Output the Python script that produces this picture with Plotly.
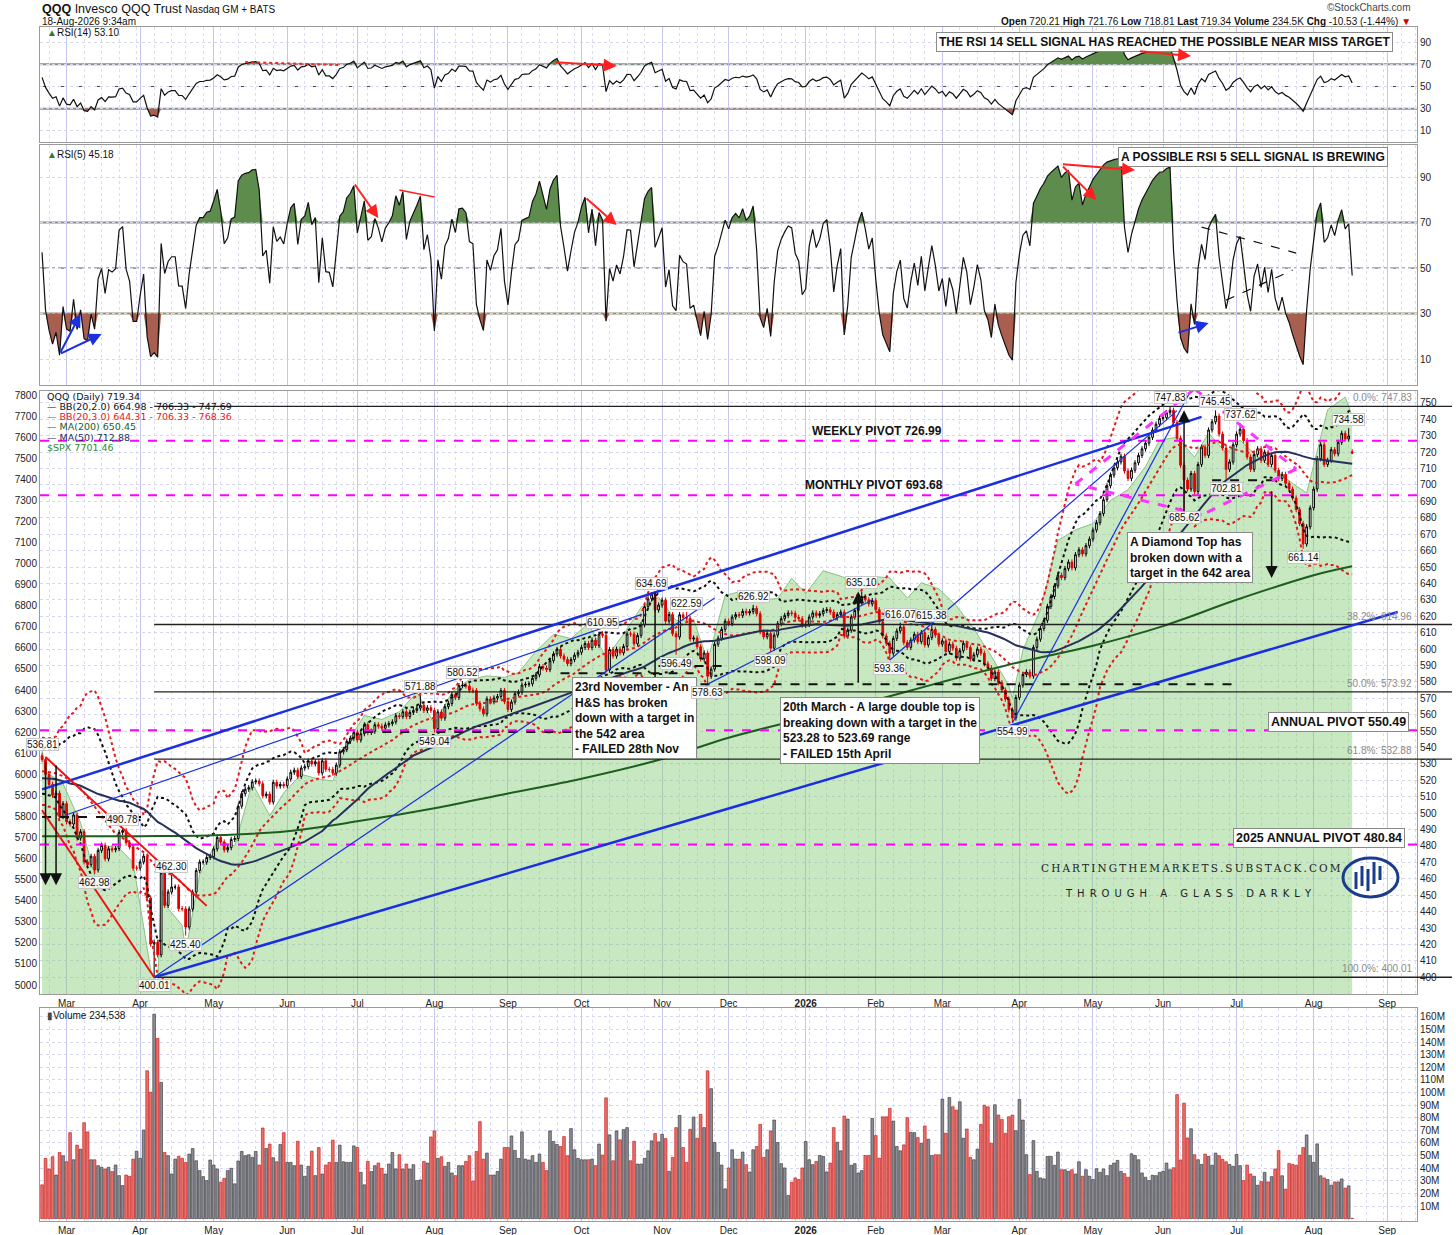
import numpy as np
import pandas as pd
import plotly.graph_objects as go

# ------------------------------------------------------------------ data
HOLIDAYS = ["2024-11-28", "2024-12-25", "2025-01-01", "2025-01-09", "2025-01-20", "2025-02-17",
            "2025-04-18", "2025-05-26", "2025-06-19", "2025-07-04", "2025-09-01", "2025-11-27",
            "2025-12-25", "2026-01-01", "2026-01-19", "2026-02-16", "2026-04-03", "2026-05-25",
            "2026-06-19", "2026-07-03", "2026-09-07"]

# closes before the visible window (indicator warm-up) 2024-11-25 .. 2025-02-19
warmup_close = [
    503.4, 504.9, 501.8, 507.3,
    512.9, 514.5, 520.9, 519.8, 524.1, 520.0, 518.2, 528.0, 524.1, 528.1, 535.8, 533.4, 514.1, 511.8,
    516.3, 520.5, 527.6, 527.2, 520.2, 513.2, 508.8,
    507.8, 516.2, 522.1, 512.8, 512.9, 504.8, 503.2, 502.7, 514.0, 510.4, 519.3, 522.4, 529.1, 530.2,
    527.2, 511.8, 519.4, 518.5, 520.7, 519.9,
    515.7, 522.1, 524.4, 526.9, 520.5, 526.9, 525.6, 527.4, 533.9, 535.8, 536.8, 535.0]

# QQQ daily closes 2025-02-20 .. 2025-12-31
close_2025 = [
    532.7, 523.7, 517.5, 510.9, 512.2, 497.9, 505.8,
    494.7, 493.4, 498.9, 484.8, 488.7, 470.3, 468.6, 473.7, 465.4, 477.3, 480.4, 472.2, 478.3, 477.7,
    478.4, 488.3, 489.4, 482.0, 479.4, 466.5, 466.5,
    470.3, 473.8, 448.3, 420.3, 421.3, 413.7, 463.6, 443.8, 452.0, 455.0, 455.0, 441.8, 441.7, 430.6,
    441.6, 451.9, 465.0, 470.2, 470.2, 473.0, 473.5,
    478.2, 485.2, 482.4, 477.6, 479.0, 484.0, 484.5, 504.3, 511.9, 514.6, 515.5, 519.1, 519.6, 517.9,
    510.6, 511.6, 506.8, 518.8, 516.5, 517.5, 516.7,
    520.8, 524.9, 526.2, 522.4, 527.5, 528.3, 531.8, 530.0, 531.3, 524.5, 531.9, 526.7, 526.6, 524.4,
    529.3, 537.4, 538.8, 543.8, 545.7, 549.2,
    544.6, 548.4, 553.8, 549.2, 549.9, 553.9, 553.0, 551.8, 553.8, 554.6, 555.6, 559.4, 558.9, 561.8,
    558.9, 561.4, 562.6, 564.0, 565.7, 562.6, 564.2, 562.6,
    551.5, 561.7, 557.9, 564.9, 566.8, 572.2, 570.5, 577.7, 577.9, 577.5, 574.9, 574.7, 566.9, 563.5,
    560.5, 569.6, 567.9, 570.2, 571.1, 574.7, 568.0,
    563.2, 567.7, 572.8, 573.7, 578.1, 578.5, 578.8, 582.2, 584.3, 589.3, 588.4, 587.5, 592.9, 597.0,
    599.8, 595.8, 593.7, 591.1, 593.6, 596.3, 598.0,
    601.0, 603.4, 600.9, 605.4, 602.2, 609.1, 608.4, 587.2, 599.7, 595.7, 599.9, 597.7, 601.6, 609.2,
    609.1, 603.2, 608.3, 614.8, 625.8, 630.6, 633.5, 623.8, 626.8,
    629.8, 617.0, 621.0, 609.4, 607.4, 620.9, 619.3, 618.8, 606.1, 606.7, 601.4, 594.0, 597.6, 583.4,
    587.8, 602.9, 606.6, 612.0, 617.0,
    615.5, 619.5, 621.0, 620.5, 623.0, 622.0, 622.8, 624.8, 621.5, 610.5, 607.5, 609.5, 600.5, 608.5,
    615.5, 618.5, 620.5, 622.0, 621.8, 619.3, 618.5, 614.5]

# QQQ daily closes 2026-01-02 .. 2026-08-18
close_2026 = [
    615.0, 619.5, 622.0, 620.5, 621.5, 623.5, 624.0, 622.5, 619.0, 621.0, 622.5, 608.0, 611.5, 619.5,
    623.5, 628.5, 632.0, 630.0, 627.5, 629.5,
    624.0, 616.5, 608.0, 603.5, 597.5, 606.5, 611.0, 613.5, 604.0, 601.0, 605.5, 609.0, 604.5, 610.0,
    602.5, 607.0, 612.0, 608.5, 603.0,
    605.0, 598.5, 603.0, 600.5, 594.5, 599.0, 603.5, 601.0, 594.0, 596.5, 600.0, 597.5, 591.0, 588.5,
    582.0, 586.0, 579.5, 575.0, 569.5, 563.0, 558.0, 570.5,
    578.0, 584.5, 586.0, 583.5, 601.0, 606.0, 612.5, 617.5, 626.0, 632.0, 638.5, 645.0, 643.5, 649.0,
    653.0, 649.5, 657.5, 660.5, 658.0, 663.0, 667.0,
    672.5, 677.0, 682.5, 691.0, 699.5, 706.0, 710.5, 714.0, 717.5, 708.5, 704.0, 709.0, 713.5, 718.0,
    722.0, 725.5, 729.0, 733.5, 737.0, 740.5,
    741.0, 744.0, 745.5, 738.0, 728.5, 712.0, 703.0, 697.5, 707.0, 696.0, 712.5, 723.0, 718.0, 733.5,
    738.5, 742.0, 731.0, 722.5, 709.5, 714.0, 724.5,
    731.0, 734.0, 727.0, 717.0, 709.5, 718.5, 722.0, 715.0, 720.0, 712.5, 718.0, 709.0, 704.0, 706.5,
    701.0, 697.5, 692.0, 685.0, 676.5, 664.0, 674.5, 686.0,
    697.5, 716.0, 724.5, 712.5, 715.0, 721.5, 719.0, 726.0, 731.5, 728.0, 729.87, 719.34]

# daily volume, millions of shares
volume_2025_m = [
    26.8, 47.8, 39.4, 49.1, 34.6, 52.5, 49.9,
    45.1, 68.2, 46.7, 58.3, 55.1, 76.1, 68.8, 46.7, 46.7, 42.0, 40.7, 39.4, 40.7, 37.3, 42.5, 34.1,
    26.2, 34.6, 33.6, 47.2, 53.5,
    47.8, 70.3, 117.3, 100.3, 162.2, 143.0, 108.1, 52.5, 49.9, 35.4, 47.2, 49.3, 47.8, 44.6, 51.2,
    55.6, 45.9, 38.1, 33.3, 30.2, 46.5,
    42.5, 39.4, 28.9, 32.0, 38.1, 39.9, 27.6, 45.7, 53.3, 49.9, 50.7, 48.6, 53.3, 42.5, 71.9, 55.6,
    59.1, 48.3, 45.1, 58.8, 68.2,
    44.6, 44.6, 42.0, 61.4, 42.5, 33.6, 41.5, 53.5, 34.1, 56.4, 35.4, 42.5, 44.6, 62.2, 44.6, 58.3,
    45.1, 44.6, 44.6, 57.7,
    56.4, 36.7, 26.8, 45.4, 37.3, 42.0, 44.1, 39.9, 35.4, 43.3, 52.5, 39.4, 50.7, 39.4, 43.3, 39.4,
    42.8, 30.2, 30.7, 45.4, 44.1, 64.8,
    69.6, 47.8, 49.1, 41.5, 44.6, 36.2, 34.1, 42.0, 42.0, 45.4, 49.9, 29.7, 53.3, 76.9, 47.2, 52.0,
    34.6, 34.6, 37.5, 47.2, 56.4,
    56.4, 65.6, 54.1, 47.8, 68.8, 47.2, 46.5, 49.9, 44.6, 51.2, 44.6, 38.1, 69.6, 61.2, 58.8, 57.2,
    65.1, 49.9, 71.4, 54.6, 47.8,
    46.7, 46.7, 46.7, 47.2, 42.0, 59.1, 50.4, 95.8, 66.4, 45.9, 69.6, 62.5, 70.6, 72.2, 45.9, 61.4,
    43.3, 43.3, 47.8, 53.8, 61.7, 67.5, 60.9,
    66.9, 63.5, 37.5, 48.6, 72.2, 81.9, 56.4, 44.6, 70.9, 80.6, 63.8, 82.7, 72.2, 117.3, 103.1, 60.4,
    52.5, 42.5, 23.6,
    40.2, 54.6, 47.2, 47.2, 52.8, 42.8, 37.0, 54.6, 57.2, 74.8, 48.6, 54.6, 69.6, 78.2, 60.4, 43.6,
    40.2, 18.4, 28.9, 32.3, 31.0, 40.2]
volume_2026_m = [
    61.2, 46.7, 42.8, 45.4, 50.1, 49.3, 37.0, 44.1, 72.2, 60.6, 53.8, 81.4, 79.0, 42.3, 43.6, 36.2,
    38.1, 50.1, 50.1, 79.5,
    65.9, 48.0, 80.8, 80.8, 87.4, 77.4, 57.2, 53.8, 58.5, 80.1, 68.5, 68.2, 64.3, 59.8, 73.5, 63.0,
    50.1, 50.7, 50.7,
    94.8, 67.7, 96.1, 88.7, 86.1, 92.7, 63.8, 71.1, 48.6, 46.7, 55.1, 74.8, 90.0, 88.7, 59.8, 90.3,
    82.2, 78.7, 67.7, 80.8, 82.2, 69.8,
    94.5, 78.2, 50.7, 34.9, 61.9, 37.5, 32.3, 31.5, 49.3, 49.3, 42.3, 52.8, 38.8, 38.8, 37.5, 38.8,
    35.4, 45.1, 33.6, 38.8, 33.6,
    31.0, 39.6, 36.7, 39.4, 34.1, 42.3, 44.1, 46.2, 37.5, 35.7, 32.8, 51.4, 50.1, 46.7, 36.2, 32.8,
    30.2, 34.4, 34.1, 36.7,
    37.5, 44.1, 38.8, 40.4, 98.4, 46.5, 91.6, 64.0, 71.3, 50.7, 46.7, 43.0, 51.2, 49.4, 42.3, 52.0,
    50.0, 47.0, 45.1, 43.0, 41.5,
    50.9, 42.0, 30.2, 42.5, 35.4, 33.6, 26.5, 29.4, 36.7, 29.1, 33.3, 39.4, 54.1, 34.0, 23.4, 43.8,
    43.0, 42.3, 50.4, 56.4, 66.4, 50.1,
    44.6, 59.3, 34.0, 32.3, 31.0, 26.5, 29.1, 29.1, 31.5, 24.2, 26.0, 0.2345]

last_bar_ohl = (720.21, 721.76, 718.81)

# labelled swing highs (H) / lows (L)
swing_points = [
    ("2025-02-20", 536.81, "H"), ("2025-03-13", 462.98, "L"), ("2025-03-25", 490.78, "H"),
    ("2025-04-07", 400.01, "L"), ("2025-04-14", 462.30, "H"), ("2025-04-21", 425.40, "L"),
    ("2025-07-28", 571.88, "H"), ("2025-08-01", 549.04, "L"), ("2025-08-13", 580.52, "H"),
    ("2025-10-09", 610.95, "H"), ("2025-10-29", 634.69, "H"), ("2025-11-07", 596.49, "L"),
    ("2025-11-12", 622.59, "H"), ("2025-11-20", 578.63, "L"), ("2025-12-10", 626.92, "H"),
    ("2025-12-17", 598.09, "L"), ("2026-01-27", 635.10, "H"), ("2026-02-06", 593.36, "L"),
    ("2026-02-11", 616.07, "H"), ("2026-02-25", 615.38, "H"), ("2026-03-30", 554.99, "L"),
    ("2026-06-03", 747.83, "H"), ("2026-06-09", 685.62, "L"), ("2026-06-23", 745.45, "H"),
    ("2026-06-26", 702.81, "L"), ("2026-07-02", 737.62, "H"), ("2026-07-29", 661.14, "L"),
    ("2026-08-17", 734.58, "H")]

ma200_dates = ["2025-02-20", "2025-04-01", "2025-05-01", "2025-06-02", "2025-07-01", "2025-08-01",
               "2025-09-02", "2025-10-01", "2025-11-03", "2025-12-01", "2026-01-02", "2026-02-02",
               "2026-03-02", "2026-04-01", "2026-05-01", "2026-06-01", "2026-07-01", "2026-08-03",
               "2026-08-18"]
ma200_values = [486.0, 486.0, 486.5, 489.0, 495.0, 503.0, 512.0, 521.0, 533.0, 546.0, 558.0, 569.0,
                580.0, 592.0, 602.0, 614.0, 630.0, 645.0, 650.45]

spx_dates = ["2025-02-20", "2025-02-21", "2025-02-28", "2025-03-07", "2025-03-13", "2025-03-14",
             "2025-03-21", "2025-03-28", "2025-04-04", "2025-04-08", "2025-04-09", "2025-04-11",
             "2025-04-17", "2025-04-21", "2025-04-25", "2025-05-02", "2025-05-09", "2025-05-16",
             "2025-05-23", "2025-05-30", "2025-06-06", "2025-06-13", "2025-06-20", "2025-06-27",
             "2025-07-03", "2025-07-11", "2025-07-18", "2025-07-25", "2025-08-01", "2025-08-08",
             "2025-08-15", "2025-08-22", "2025-08-29", "2025-09-05", "2025-09-12", "2025-09-19",
             "2025-09-26", "2025-10-03", "2025-10-10", "2025-10-17", "2025-10-24", "2025-10-31",
             "2025-11-07", "2025-11-14", "2025-11-20", "2025-11-28", "2025-12-05", "2025-12-12",
             "2025-12-19", "2025-12-26", "2026-01-02", "2026-01-09", "2026-01-16", "2026-01-23",
             "2026-01-30", "2026-02-06", "2026-02-13", "2026-02-20", "2026-02-27", "2026-03-06",
             "2026-03-13", "2026-03-20", "2026-03-27", "2026-03-30", "2026-04-02", "2026-04-10",
             "2026-04-17", "2026-04-24", "2026-05-01", "2026-05-08", "2026-05-15", "2026-05-22",
             "2026-05-29", "2026-06-05", "2026-06-12", "2026-06-18", "2026-06-26", "2026-07-02",
             "2026-07-10", "2026-07-17", "2026-07-24", "2026-07-30", "2026-08-07", "2026-08-14",
             "2026-08-18"]
spx_values = [6117, 6013, 5955, 5770, 5521, 5639, 5667, 5581, 5074, 4982, 5457, 5363, 5283, 5158,
              5525, 5687, 5660, 5958, 5803, 5912, 6000, 5977, 5968, 6173, 6279, 6260, 6297, 6389,
              6238, 6389, 6450, 6467, 6460, 6482, 6584, 6664, 6644, 6716, 6553, 6664, 6792, 6840,
              6729, 6734, 6538, 6849, 6870, 6827, 6834, 6930, 6858, 6966, 6940, 6915, 6939, 6932,
              6836, 6909, 6880, 6800, 6690, 6560, 6420, 6360, 6590, 6780, 7110, 7160, 7190, 7300,
              7350, 7460, 7585, 7600, 7505, 7620, 7525, 7586, 7507, 7445, 7380, 7335, 7730, 7790,
              7701]

fib_levels = [(747.83, "0.0%: 747.83"), (614.96, "38.2%: 614.96"), (573.92, "50.0%: 573.92"),
              (532.88, "61.8%: 532.88"), (400.01, "100.0%: 400.01")]
pivot_levels = [726.99, 693.68, 550.49, 480.84]

# analyst trendlines: (bar index or date, price) -> (bar index or date, price)
blue_thick_lines = [((0, 514.5), (331, 741.5)), ((32, 400.01), ("2026-09-04", 622.6))]
blue_thin_lines = [((32, 400.01), (192, 631.1)), ((7, 499.0), (171, 621.0)),
                   ((190, 578.63), (237, 629.9)), ((242, 593.36), (324, 745.3)),
                   ((277, 554.99), (328, 757.8))]
red_lines = [((0, 501.8), (32, 400.01)), ((1, 534.2), (47, 443.5))]
diamond = [(295, 700.6), (329, 758.5), (358, 709.7), (331, 681.7)]
dashed_levels = [(497.6, 0, 31), (549.5, 92, 153), (578.6, 152, 342), (585.3, 148, 186),
                 (589.7, 176, 196), (702.8, 334, 354)]
target_arrows = [(233, 578.6, 635.1), (326, 683.0, 745.5), (351, 697.0, 643.3),
                 (1, 532.0, 456.0), (4, 530.0, 456.0)]
measure_lines = [(175, 634.5, 578.6)]

# RSI annotation arrows (bar index, value) -> (bar index, value)
rsi14_arrows = [((146, 72.0), (164, 68.4)), ((313, 81.9), (328, 77.4))]
rsi14_dotted = [((58, 72.0), (85, 69.3))]
rsi5_red_arrows = [((89, 87.4), (96, 72.0)), ((155, 81.2), (164, 68.9)),
                   ((291, 95.7), (312, 93.1)), ((291, 95.3), (301, 79.9))]
rsi5_red_lines = [((102, 84.3), (112, 81.2))]
rsi5_blue_arrows = [((5, 12.2), (11, 29.8)), ((5, 12.2), (17, 21.0)), ((324, 21.4), (333, 25.8))]
rsi5_black_dashed = [((331, 68.0), (358, 56.6)), ((338, 35.9), (357, 49.1))]

# ------------------------------------------------------------------ prep
W, H = 1456, 1235
ML, MR = 40, 39
PW = W - ML - MR
X0, X1 = "2025-02-19 10:00", "2026-09-14 12:00"
WICK = 1.6
FONT = "Liberation Sans, Arial, sans-serif"


def pxx(px):
    return (px - ML) / PW


def pxy(py):
    return 1 - py / H


all_dates = pd.bdate_range("2024-11-25", "2026-08-18", freq="C", holidays=HOLIDAYS)
close_all = np.array(warmup_close + close_2025 + close_2026, dtype=float)
if len(all_dates) != len(close_all):
    raise ValueError(f"dates {len(all_dates)} vs closes {len(close_all)}")
nw = len(warmup_close)
dates = all_dates[nw:]
ds = list(dates.strftime("%Y-%m-%d"))
close = close_all[nw:]
prev = close_all[nw - 1:-1]
vol = np.array(volume_2025_m + volume_2026_m)
if len(vol) != len(close):
    raise ValueError(f"volume {len(vol)} vs closes {len(close)}")

open_ = prev.copy()
hi = np.maximum(open_, close) + WICK
lo = np.minimum(open_, close) - WICK
pos = {d: i for i, d in enumerate(ds)}
for d, v, k in swing_points:
    if k == "H":
        hi[pos[d]] = v
    else:
        lo[pos[d]] = v
open_[-1], hi[-1], lo[-1] = last_bar_ohl

s = pd.Series(close_all, index=all_dates)
sma20 = s.rolling(20).mean()
sd20 = s.rolling(20).std(ddof=0)
ma50 = s.rolling(50).mean()


def rsi(series, n):
    d = series.diff()
    up = d.clip(lower=0)
    dn = (-d).clip(lower=0)
    au = up.ewm(alpha=1 / n, adjust=False).mean()
    ad = dn.ewm(alpha=1 / n, adjust=False).mean()
    return 100 - 100 / (1 + au / ad)


r14 = rsi(s, 14).values[nw:]
r5 = rsi(s, 5).values[nw:]
mid = sma20.values[nw:]
sd = sd20.values[nw:]
m50 = ma50.values[nw:]


def D(ref):
    return ds[ref] if isinstance(ref, int) else ref


# ------------------------------------------------------------------ traces
fig = go.Figure()

fig.add_trace(go.Scatter(x=spx_dates, y=spx_values, xaxis="x2", yaxis="y2", mode="lines",
                         line=dict(color="#86c47e", width=1), fill="tozeroy",
                         fillcolor="rgba(125,200,110,0.42)", hoverinfo="skip"))

for k, col in ((3.0, "#e31a1a"), (2.0, "#111111")):
    for sign in (1, -1):
        fig.add_trace(go.Scatter(x=ds, y=mid + sign * k * sd, xaxis="x2", yaxis="y5", mode="lines",
                                 line=dict(color=col, width=2, dash="dot"), hoverinfo="skip"))
fig.add_trace(go.Scatter(x=ds, y=mid, xaxis="x2", yaxis="y5", mode="lines",
                         line=dict(color="#e31a1a", width=2, dash="dot"), hoverinfo="skip"))

fig.add_trace(go.Candlestick(x=ds, open=open_, high=hi, low=lo, close=close, xaxis="x2", yaxis="y5",
                             increasing=dict(line=dict(color="#000000", width=1), fillcolor="#ffffff"),
                             decreasing=dict(line=dict(color="#e00000", width=1), fillcolor="#e00000"),
                             whiskerwidth=0, hoverinfo="skip"))

fig.add_trace(go.Scatter(x=ma200_dates, y=ma200_values, xaxis="x2", yaxis="y5", mode="lines",
                         line=dict(color="#1d5e1d", width=2, shape="spline"), hoverinfo="skip"))
fig.add_trace(go.Scatter(x=ds, y=m50, xaxis="x2", yaxis="y5", mode="lines",
                         line=dict(color="#26305a", width=2), hoverinfo="skip"))

for rv, xa, ya in ((r14, "x4", "y4"), (r5, "x3", "y3")):
    fig.add_trace(go.Scatter(x=ds, y=np.full(len(ds), 70.0), xaxis=xa, yaxis=ya, mode="lines",
                             line=dict(width=0), hoverinfo="skip"))
    fig.add_trace(go.Scatter(x=ds, y=np.maximum(rv, 70), xaxis=xa, yaxis=ya, mode="lines",
                             line=dict(width=0), fill="tonexty", fillcolor="#5d8c4c", hoverinfo="skip"))
    fig.add_trace(go.Scatter(x=ds, y=np.full(len(ds), 30.0), xaxis=xa, yaxis=ya, mode="lines",
                             line=dict(width=0), hoverinfo="skip"))
    fig.add_trace(go.Scatter(x=ds, y=np.minimum(rv, 30), xaxis=xa, yaxis=ya, mode="lines",
                             line=dict(width=0), fill="tonexty", fillcolor="#a85f4f", hoverinfo="skip"))
    fig.add_trace(go.Scatter(x=ds, y=rv, xaxis=xa, yaxis=ya, mode="lines",
                             line=dict(color="#111111", width=1.2), hoverinfo="skip"))

down = close < prev
fig.add_trace(go.Bar(x=ds, y=vol, xaxis="x", yaxis="y", width=0.78 * 86400000,
                     marker=dict(color=np.where(down, "#e8706a", "#8c8c96"),
                                 line=dict(color=np.where(down, "#c41010", "#303030"), width=0.6)),
                     hoverinfo="skip"))

# ------------------------------------------------------------------ shapes
shapes = []


def seg(p0, p1, color, width, dash="solid", xref="x2", yref="y5", layer="above"):
    shapes.append(dict(type="line", xref=xref, yref=yref, x0=D(p0[0]), y0=p0[1], x1=D(p1[0]), y1=p1[1],
                       line=dict(color=color, width=width, dash=dash), layer=layer))


for lv in pivot_levels:
    shapes.append(dict(type="line", xref="paper", yref="y5", x0=0, x1=1, y0=lv, y1=lv,
                       line=dict(color="#ff00ff", width=2, dash="dash")))
for lv, _ in fib_levels:
    shapes.append(dict(type="line", xref="x2", yref="y5", x0=ds[32], x1=X1, y0=lv, y1=lv,
                       line=dict(color="#222222", width=1.3)))
    shapes.append(dict(type="line", xref="paper", yref="y5", x0=1, x1=pxx(1452), y0=lv, y1=lv,
                       line=dict(color="#222222", width=1.3)))
for lv, i0, i1 in dashed_levels:
    seg((i0, lv), (i1, lv), "#111111", 2, "dash")
for a, b in blue_thick_lines:
    seg(a, b, "#1a2fe0", 2.5)
for a, b in blue_thin_lines:
    seg(a, b, "#1a2fe0", 1.2)
for a, b in red_lines:
    seg(a, b, "#ee1111", 2)
for k in range(4):
    seg(diamond[k], diamond[(k + 1) % 4], "#ff33ff", 3, "dash")
for i, y0, y1 in measure_lines:
    seg((i, y0), (i, y1), "#111111", 1.5)

# RSI reference lines
for ya in ("y4", "y3"):
    for lv in (70, 30):
        shapes.append(dict(type="line", xref="paper", yref=ya, x0=0, x1=1, y0=lv, y1=lv, layer="below",
                           line=dict(color="#8e8e7c", width=2)))
    shapes.append(dict(type="line", xref="paper", yref=ya, x0=0, x1=1, y0=50, y1=50, layer="below",
                       line=dict(color="#4e4e3a", width=1, dash="dashdot")))
for a, b in rsi14_dotted:
    seg(a, b, "#ff2020", 2, "dot", "x4", "y4")
for a, b in rsi5_red_lines:
    seg(a, b, "#ff2020", 1.5, "solid", "x3", "y3")
for a, b in rsi5_black_dashed:
    seg(a, b, "#111111", 1.2, "dash", "x3", "y3")

# logo: ring with small candle glyphs
shapes.append(dict(type="circle", xref="paper", yref="paper", x0=pxx(1343), x1=pxx(1398),
                   y0=pxy(897), y1=pxy(858), line=dict(color="#1b3c8c", width=3)))
for bx, by0, by1 in ((1356, 872, 889), (1362, 866, 886), (1368, 869, 891), (1374, 862, 884),
                     (1380, 866, 880)):
    shapes.append(dict(type="line", xref="paper", yref="paper", x0=pxx(bx), x1=pxx(bx),
                       y0=pxy(by1), y1=pxy(by0), line=dict(color="#1b3c8c", width=3)))

# ------------------------------------------------------------------ annotations
ann = []


def text_px(px, py, text, size=10, color="#111111", xanchor="left", yanchor="middle", family=FONT,
            box=False, **kw):
    d = dict(xref="paper", yref="paper", x=pxx(px), y=pxy(py), text=text, showarrow=False,
             xanchor=xanchor, yanchor=yanchor, font=dict(size=size, color=color, family=family),
             align="left")
    if box:
        d.update(bgcolor="#ffffff", bordercolor="#8a8a8a", borderwidth=1, borderpad=2)
    d.update(kw)
    ann.append(d)


def arrow(p0, p1, color, xr, yr, width=2, size=1.1, head=2):
    ann.append(dict(xref=xr, yref=yr, axref=xr, ayref=yr, x=D(p1[0]), y=p1[1], ax=D(p0[0]), ay=p0[1],
                    text="", showarrow=True, arrowhead=head, arrowsize=size, arrowwidth=width,
                    arrowcolor=color))


# header
text_px(40, 9, "<b>QQQ</b> Invesco QQQ Trust <span style='font-size:10px'>Nasdaq GM + BATS</span>",
        size=12.5)
text_px(40, 21, "18-Aug-2026 9:34am", size=10)
text_px(1413, 8, "©StockCharts.com", size=10, color="#444444", xanchor="right")
text_px(1413, 21, "<b>Open</b> 720.21 <b>High</b> 721.76 <b>Low</b> 718.81 <b>Last</b> 719.34 "
        "<b>Volume</b> 234.5K <b>Chg</b> -10.53 (-1.44%) <span style='color:#cc0000'>▼</span>",
        size=10, xanchor="right")

# panel titles
text_px(45, 33, "<span style='color:#2f7a2f'>▲</span>RSI(14) 53.10", size=10)
text_px(45, 155, "<span style='color:#2f7a2f'>▲</span>RSI(5) 45.18", size=10)
text_px(45, 1015, "<span style='color:#444'>▮</span>Volume 234,538", size=10)
legend_lines = [("#111111", "QQQ (Daily) 719.34"),
                ("#111111", "— BB(20,2.0) 664.98 - 706.33 - 747.69"),
                ("#e31a1a", "— BB(20,3.0) 644.31 - 706.33 - 768.36"),
                ("#1d5e1d", "— MA(200) 650.45"),
                ("#26305a", "— MA(50) 712.88"),
                ("#2f8a2f", "$SPX 7701.46")]
for k, (c, t) in enumerate(legend_lines):
    text_px(45, 396 + 10.3 * k, t, size=9.5, color=c, family="DejaVu Sans, Verdana, sans-serif")

# pivot texts
ann.append(dict(xref="paper", yref="y5", x=pxx(810), y=726.99, yanchor="bottom", xanchor="left",
                yshift=1, showarrow=False, text="<b>WEEKLY PIVOT 726.99</b>",
                font=dict(size=12, family=FONT, color="#111")))
ann.append(dict(xref="paper", yref="y5", x=pxx(803), y=693.68, yanchor="bottom", xanchor="left",
                yshift=1, showarrow=False, text="<b>MONTHLY PIVOT 693.68</b>",
                font=dict(size=12, family=FONT, color="#111")))
text_px(1268, 712, "<b>ANNUAL PIVOT 550.49</b>", size=12.5, yanchor="top", box=True)
text_px(1233, 828, "<b>2025 ANNUAL PIVOT 480.84</b>", size=12.5, yanchor="top", box=True)

# fib labels (kept inside the plot, just left of the price axis labels)
for lv, t in fib_levels:
    ann.append(dict(xref="paper", yref="y5", x=pxx(1414), y=lv, xanchor="right", yanchor="bottom",
                    yshift=1, showarrow=False, text=t, font=dict(size=10, color="#8a8a8a", family=FONT)))

# commentary boxes
text_px(572, 677, "<b>23rd November - An<br>H&S has broken<br>down with a target in<br>the 542 area<br>"
        "- FAILED 28th Nov</b>", size=12, yanchor="top", box=True)
text_px(780, 697, "<b>20th March - A large double top is<br>breaking down with a target in the<br>"
        "523.28 to 523.69 range<br>- FAILED 15th April</b>", size=12, yanchor="top", box=True)
text_px(1127, 532, "<b>A Diamond Top has<br>broken down with a<br>target in the 642 area</b>", size=12,
        yanchor="top", box=True)
text_px(936, 32, "<b>THE RSI 14 SELL SIGNAL HAS REACHED THE POSSIBLE NEAR MISS TARGET</b>", size=12,
        yanchor="top", box=True)
text_px(1118, 147, "<b>A POSSIBLE RSI 5 SELL SIGNAL IS BREWING</b>", size=12, yanchor="top", box=True)

# watermark
text_px(1191, 868, "\u2009".join("CHARTINGTHEMARKETS.SUBSTACK.COM"), size=10.5, xanchor="center",
        family="DejaVu Serif, serif", color="#222222")
text_px(1188, 893, "\u2002".join("THROUGH A GLASS DARKLY"), size=10, xanchor="center",
        family="DejaVu Sans, sans-serif", color="#222222")

# swing labels
for d, v, k in swing_points:
    ann.append(dict(xref="x2", yref="y5", x=d, y=v, text=f"{v:.2f}", showarrow=False,
                    yanchor="bottom" if k == "H" else "top", yshift=2 if k == "H" else -2,
                    font=dict(size=10, family=FONT, color="#111"), bgcolor="rgba(255,255,255,0.85)",
                    bordercolor="#c8c8c8", borderwidth=1, borderpad=0))

# target arrows
for i, y0, y1 in target_arrows:
    arrow((i, y0), (i, y1), "#111111", "x2", "y5", width=1.5, size=1.6, head=2)

# RSI arrows
for a, b in rsi14_arrows:
    arrow(a, b, "#ff2020", "x4", "y4", width=2, size=1.3)
for a, b in rsi14_dotted:
    arrow(b, (b[0] + 1, b[1] - 0.1), "#ff2020", "x4", "y4", width=2, size=1.3)
for a, b in rsi5_red_arrows:
    arrow(a, b, "#ff2020", "x3", "y3", width=2, size=1.3)
for a, b in rsi5_blue_arrows:
    arrow(a, b, "#1a2fe0", "x3", "y3", width=2, size=1.3)

# ------------------------------------------------------------------ axes
month_first = pd.Series(ds, index=dates).groupby(dates.to_period("M")).first()
tick_vals, tick_text = [], []
for per, d in month_first.items():
    if per.year == 2025 and per.month == 2:
        continue
    tick_vals.append(d)
    tick_text.append("<b>2026</b>" if (per.year == 2026 and per.month == 1) else per.strftime("%b"))
tick_vals.append("2026-09-01")
tick_text.append("Sep")

xcommon = dict(type="date", range=[X0, X1], automargin=False,
               rangebreaks=[dict(bounds=["sat", "mon"]), dict(values=HOLIDAYS)],
               tickvals=tick_vals, ticktext=tick_text, showgrid=True, gridcolor="#c6c6ec", gridwidth=1,
               minor=dict(dtick=7 * 86400000, tick0="2025-02-24", showgrid=True, gridcolor="#dcdcf2",
                          griddash="dot"),
               showline=True, mirror=True, linecolor="#9a9a9a", linewidth=1, zeroline=False,
               tickfont=dict(size=10, family=FONT, color="#222"), rangeslider=dict(visible=False))
ycommon = dict(showline=True, mirror=True, linecolor="#9a9a9a", linewidth=1, zeroline=False,
               automargin=False, gridcolor="#d6d6ee", griddash="dot",
               tickfont=dict(size=10, family=FONT, color="#222"))

fig.update_layout(
    width=W, height=H, margin=dict(l=ML, r=MR, t=0, b=0, autoexpand=False), showlegend=False,
    plot_bgcolor="#ffffff", paper_bgcolor="#ffffff", font=dict(family=FONT, size=10, color="#222"),
    xaxis=dict(xcommon, anchor="y", domain=[0, 1]),
    xaxis2=dict(xcommon, anchor="y2", domain=[0, 1], matches="x"),
    xaxis3=dict(xcommon, anchor="y3", domain=[0, 1], matches="x", showticklabels=False),
    xaxis4=dict(xcommon, anchor="y4", domain=[0, 1], matches="x", showticklabels=False),
    yaxis=dict(ycommon, domain=[pxy(1221), pxy(1008)], range=[-1.9, 167.1], side="right",
               tickvals=list(range(10, 170, 10)), ticktext=[f"{v}M" for v in range(10, 170, 10)],
               anchor="x"),
    yaxis2=dict(ycommon, domain=[pxy(994), pxy(391)], range=[4957.3, 7819], side="left",
                tickvals=list(range(5000, 7900, 100)), showgrid=False, anchor="x2"),
    yaxis5=dict(ycommon, overlaying="y2", side="right", range=[389.8, 757.25],
                tickvals=list(range(400, 760, 10)), showgrid=True, anchor="x2"),
    yaxis3=dict(ycommon, domain=[pxy(385), pxy(145)], range=[-1.4, 104.1], side="right",
                tickvals=[10, 30, 50, 70, 90], anchor="x3"),
    yaxis4=dict(ycommon, domain=[pxy(142), pxy(27)], range=[0.1, 103.5], side="right",
                tickvals=[10, 30, 50, 70, 90], anchor="x4"),
    shapes=shapes, annotations=ann,
)

fig.write_html("out.html", config={"displayModeBar": False},
               post_script="document.body.style.margin='0px';document.body.style.overflow='hidden';")
